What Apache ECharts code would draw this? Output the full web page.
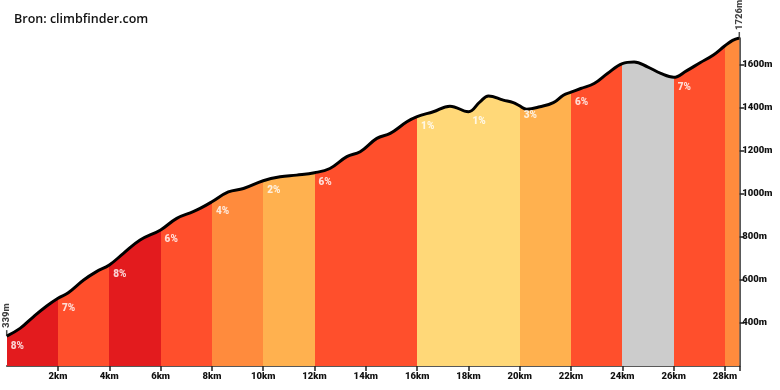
<!DOCTYPE html>
<html>
<head>
<meta charset="utf-8">
<script src="https://cdn.jsdelivr.net/npm/echarts@6/dist/echarts.min.js"></script>
<style>
  html, body { margin: 0; padding: 0; background: #fff; }
  #chart { width: 780px; height: 390px; }
</style>
</head>
<body>
<div id="chart"></div>
<script>
// Profile: distance (km) and elevation (m)
const distances = [0, 0.52, 1.04, 1.56, 2, 2.4, 3, 3.5, 4, 4.55, 5.2, 6, 6.63, 7.27, 7.54, 8, 8.64, 9.23, 10, 10.66, 11.3, 12, 12.6, 13.26, 13.78, 14.43, 14.95, 15.6, 16, 16.63, 17.28, 18, 18.45, 18.78, 19.36, 19.75, 20, 20.27, 20.79, 21.31, 21.7, 22, 22.38, 22.9, 23.42, 24, 24.46, 24.98, 25.5, 26, 26.5, 27.03, 27.55, 28, 28.3, 28.56];
const elevations = [339, 375, 429, 479, 515, 541, 600, 639, 670, 724, 786, 833, 887, 918, 933, 964, 1010, 1026, 1062, 1080, 1088, 1099, 1119, 1174, 1197, 1259, 1282, 1336, 1360, 1383, 1409, 1383, 1429, 1456, 1437, 1425, 1410, 1395, 1406, 1425, 1460, 1474, 1491, 1514, 1561, 1607, 1614, 1592, 1561, 1543, 1573, 1611, 1647, 1690, 1715, 1726];

// Segments (every 2 km)
const segmentStarts = [0, 2, 4, 6, 8, 10, 12, 14, 16, 18, 20, 22, 24, 26, 28];
const segmentEnd = 28.56;
const segmentGrades = ['8%', '7%', '8%', '6%', '4%', '2%', '6%', '7%', '1%', '1%', '3%', '6%', '', '7%', ''];
const segmentColors = ['#e31b1e', '#ff4f2c', '#e31b1e', '#ff4f2c', '#ff8b3d', '#ffb14f', '#ff4f2c', '#ff4f2c', '#ffd878', '#ffd878', '#ffb14f', '#ff4f2c', '#cccccc', '#ff4f2c', '#ff8b3d'];

// Axis ticks
const xTicks = [2, 4, 6, 8, 10, 12, 14, 16, 18, 20, 22, 24, 26, 28];
const yTicks = [400, 600, 800, 1000, 1200, 1400, 1600];

const sourceText = 'Bron: climbfinder.com';

const profile = distances.map((d, i) => [d, elevations[i]]);
const pieces = segmentStarts.map((s, i) => ({
  gte: s,
  lt: i + 1 < segmentStarts.length ? segmentStarts[i + 1] : segmentEnd + 1,
  color: segmentColors[i]
}));
const gradeLabels = segmentStarts.map((s, i) => {
  const idx = distances.indexOf(s);
  return { value: [s, elevations[idx]], name: segmentGrades[i] };
}).filter(p => p.name !== '');
const endPoints = [
  [distances[0], elevations[0]],
  [distances[distances.length - 1], elevations[elevations.length - 1]]
];

const axisFont = { fontFamily: 'Roboto', fontWeight: 900, fontSize: 9.5, color: '#111' };

const chart = echarts.init(document.getElementById('chart'), null, { renderer: 'canvas' });
chart.setOption({
  animation: false,
  title: {
    text: sourceText,
    left: 9, top: 8,
    textStyle: { fontFamily: 'Open Sans', fontWeight: 600, fontSize: 12.5, color: '#111' }
  },
  grid: { left: 6.7, right: 40.7, top: 38, bottom: 24, containLabel: false },
  xAxis: {
    type: 'value',
    min: 0, max: segmentEnd,
    axisLine: { show: true, onZero: false, lineStyle: { color: '#222', width: 1.5 } },
    axisTick: { show: true, length: 5, lineStyle: { color: '#222', width: 1.5 }, customValues: xTicks.concat([segmentEnd]) },
    axisLabel: Object.assign({ customValues: xTicks, formatter: v => v + 'km', margin: 6 }, axisFont),
    splitLine: { show: false }
  },
  yAxis: {
    type: 'value',
    position: 'right',
    min: 200, max: elevations[elevations.length - 1],
    axisLine: { show: true, onZero: false, lineStyle: { color: '#222', width: 1.5 } },
    axisTick: { show: true, length: 5, lineStyle: { color: '#222', width: 1.5 }, customValues: yTicks },
    axisLabel: Object.assign({ customValues: yTicks, formatter: v => v + 'm', margin: 3 }, axisFont),
    splitLine: { show: false }
  },
  visualMap: {
    type: 'piecewise',
    show: false,
    dimension: 0,
    seriesIndex: 0,
    pieces: pieces
  },
  series: [
    {
      type: 'line',
      data: profile,
      smooth: 0.4,
      symbol: 'none',
      lineStyle: { width: 0 },
      areaStyle: { opacity: 1 },
      z: 1
    },
    {
      type: 'line',
      data: profile,
      smooth: 0.4,
      symbol: 'none',
      lineStyle: { color: '#000', width: 3 },
      z: 3
    },
    {
      type: 'scatter',
      data: gradeLabels,
      symbolSize: 0,
      z: 4,
      label: {
        show: true,
        position: 'right',
        distance: 4,
        offset: [0, 10],
        formatter: p => p.name,
        fontFamily: 'Roboto', fontWeight: 900, fontSize: 10, color: '#fff'
      }
    },
    {
      type: 'scatter',
      data: endPoints,
      symbol: 'rect',
      symbolSize: [1.5, 6],
      symbolOffset: [0, -3],
      itemStyle: { color: '#222' },
      z: 10,
      label: {
        show: true,
        position: 'top',
        distance: 2,
        rotate: 90,
        align: 'left',
        verticalAlign: 'middle',
        formatter: p => p.value[1] + 'm',
        fontFamily: 'Roboto', fontWeight: 900, fontSize: 9.5, color: '#111'
      }
    }
  ]
});
</script>
</body>
</html>
